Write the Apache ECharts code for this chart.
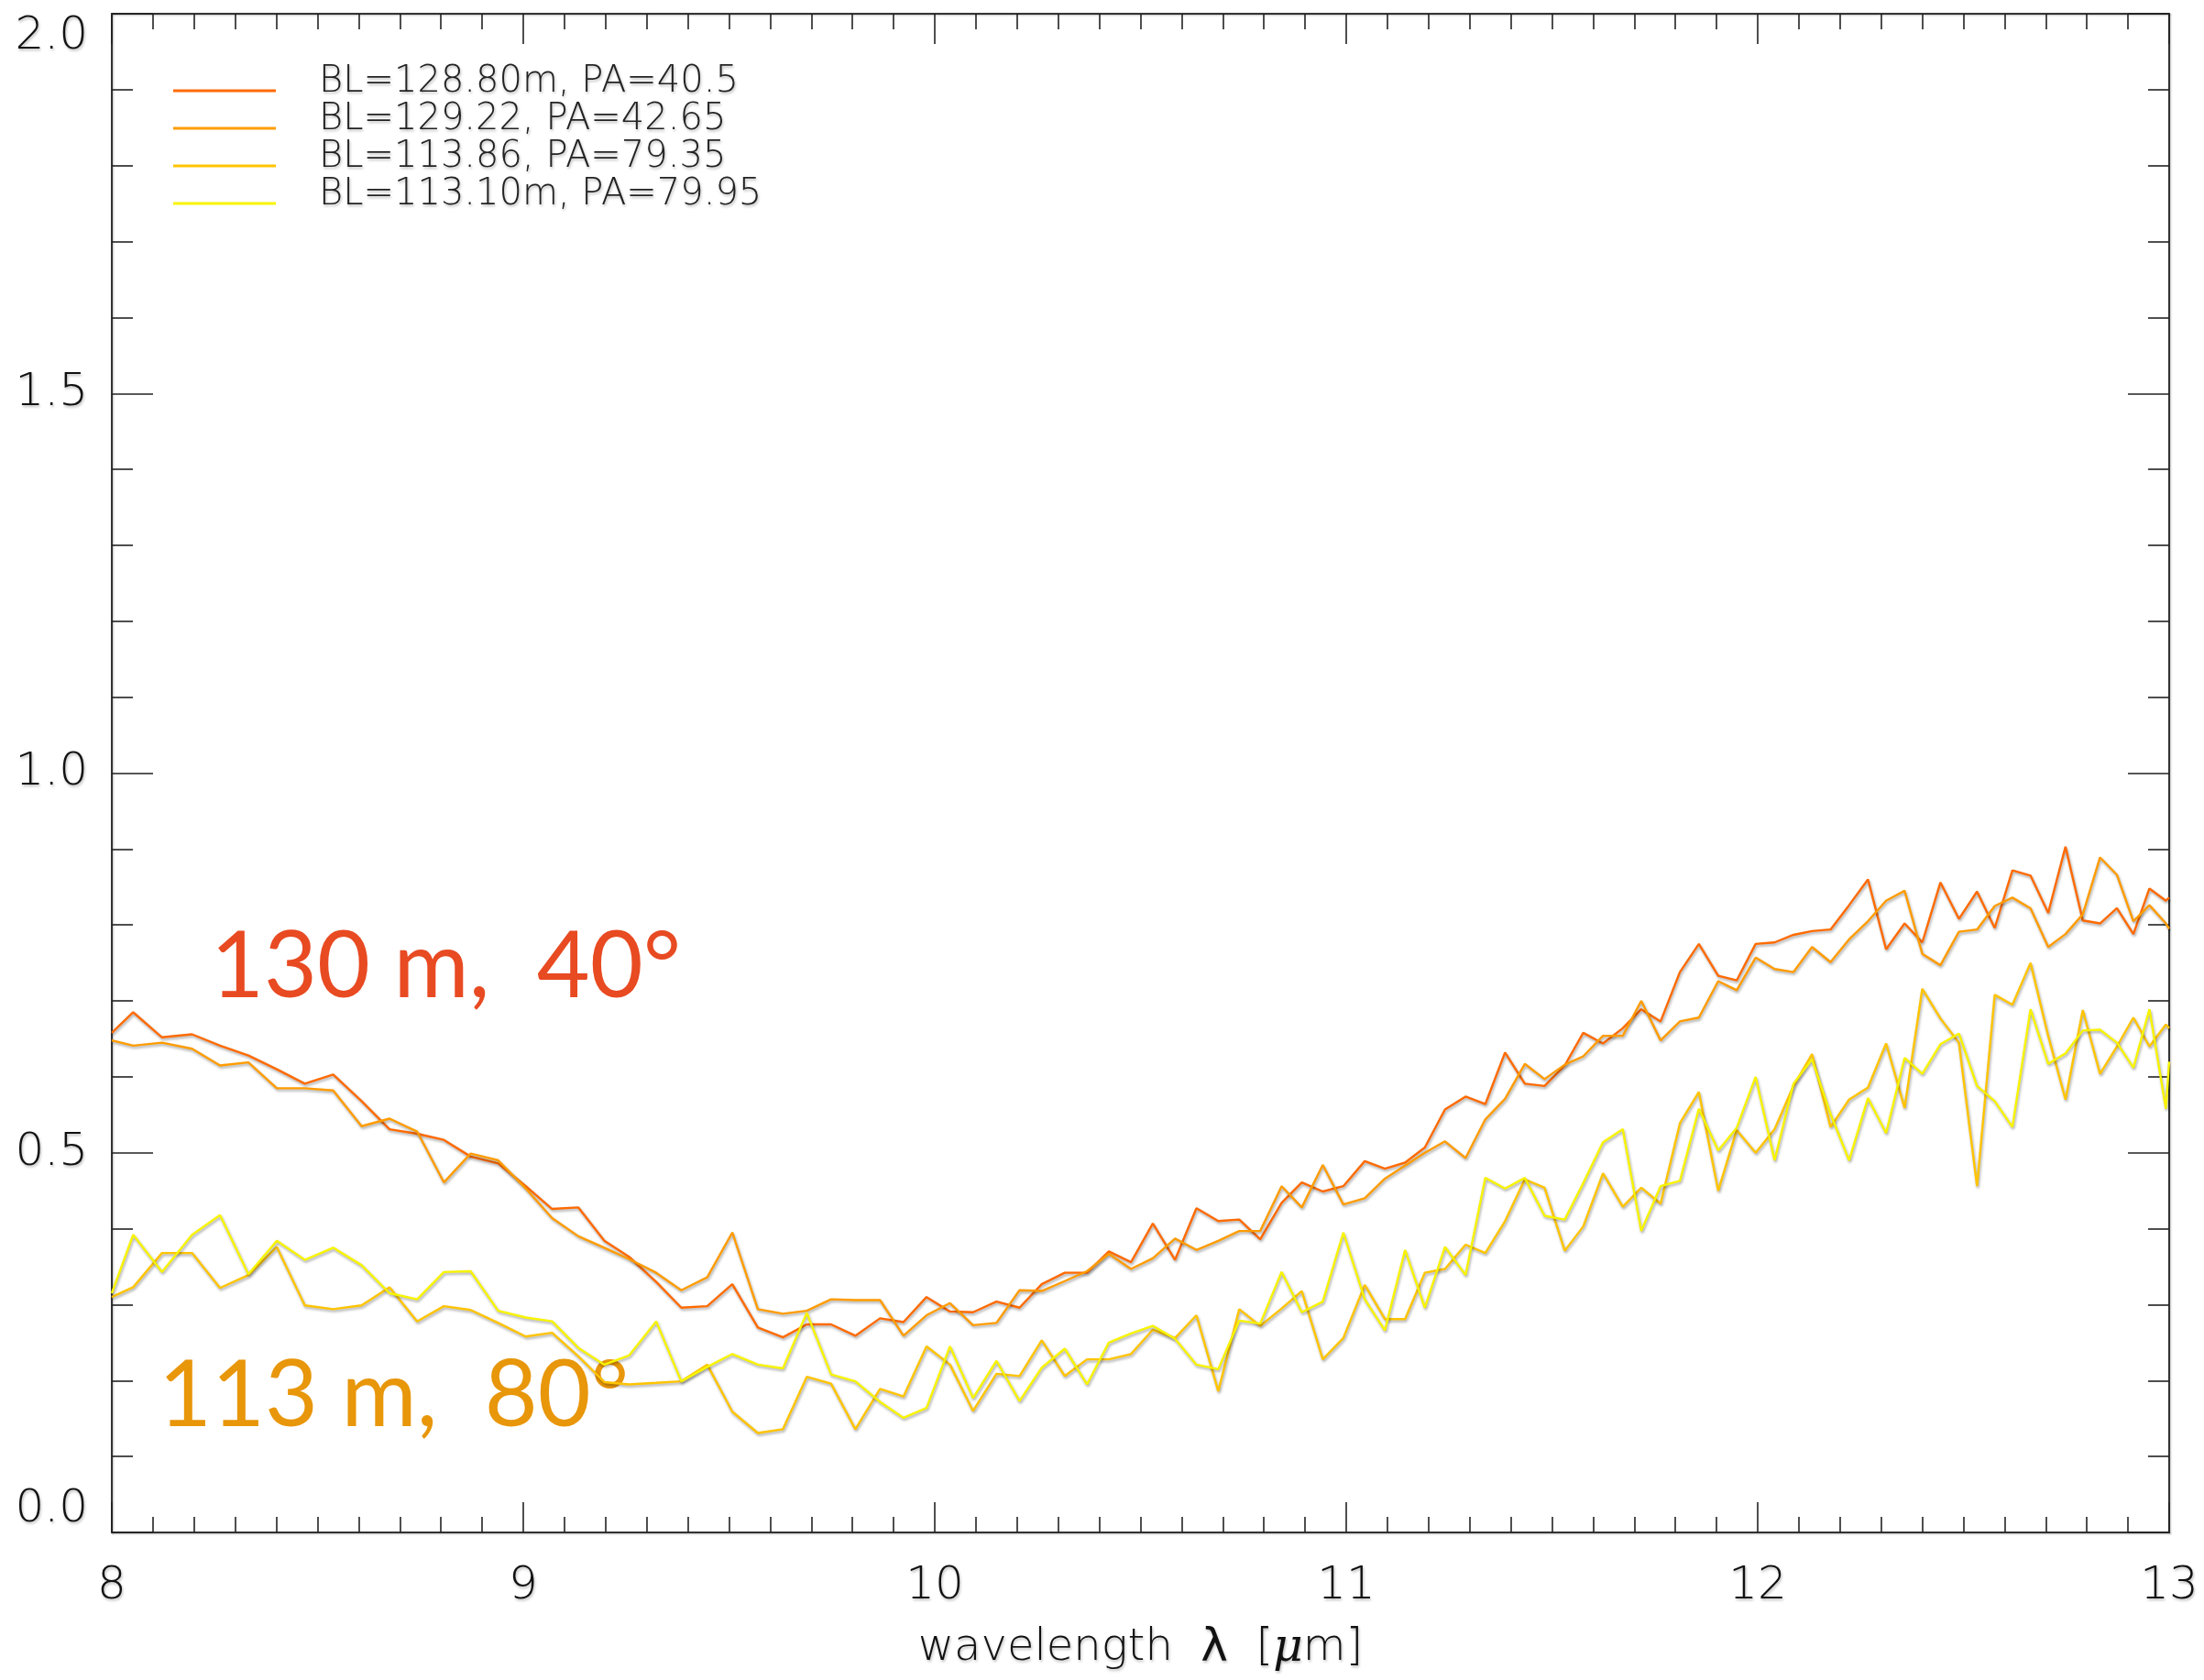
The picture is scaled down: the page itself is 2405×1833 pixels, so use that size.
<!DOCTYPE html>
<html>
<head>
<meta charset="utf-8">
<script src="https://cdn.jsdelivr.net/npm/echarts@6/dist/echarts.min.js"></script>
<style>
  html, body { margin: 0; padding: 0; background: #fff; overflow: hidden; }
  #chart { width: 2405px; height: 1833px; }
</style>
</head>
<body>
<div id="chart"></div>
<script>
// Wavelength grid (µm), shared by all four baselines
const wavelength = [
  8.000, 8.052, 8.122, 8.195, 8.263, 8.332, 8.401, 8.469, 8.538, 8.607,
  8.675, 8.742, 8.807, 8.872, 8.939, 9.006, 9.070, 9.134, 9.197, 9.257,
  9.323, 9.384, 9.447, 9.508, 9.570, 9.631, 9.689, 9.748, 9.807, 9.867,
  9.924, 9.980, 10.037, 10.093, 10.150, 10.206, 10.260, 10.316, 10.370, 10.423, 10.477,
  10.530, 10.584, 10.636, 10.689, 10.740, 10.791, 10.843, 10.892, 10.943, 10.993, 11.045, 11.094,
  11.143, 11.191, 11.240, 11.290, 11.338, 11.386, 11.434, 11.482, 11.531, 11.576, 11.624, 11.672, 11.717,
  11.764, 11.811, 11.857, 11.904, 11.949, 11.995, 12.041, 12.087, 12.132, 12.177, 12.222, 12.268, 12.312, 12.357,
  12.400, 12.444, 12.489, 12.533, 12.576, 12.619, 12.663, 12.706, 12.748, 12.790, 12.832, 12.873, 12.913, 12.952, 12.992, 13.000
];

// BL=128.80m, PA=40.5
const visBL12880 = [
  0.658, 0.685, 0.652, 0.656, 0.641, 0.628, 0.610, 0.591, 0.603, 0.568,
  0.531, 0.525, 0.517, 0.495, 0.486, 0.456, 0.426, 0.428, 0.384, 0.363,
  0.330, 0.296, 0.298, 0.327, 0.270, 0.257, 0.274, 0.274, 0.259, 0.282,
  0.277, 0.310, 0.291, 0.290, 0.304, 0.296, 0.327, 0.342, 0.342, 0.370, 0.356,
  0.407, 0.359, 0.427, 0.410, 0.412, 0.386, 0.434, 0.461, 0.449, 0.456, 0.489, 0.479,
  0.487, 0.507, 0.557, 0.574, 0.564, 0.632, 0.591, 0.588, 0.615, 0.658, 0.644, 0.664, 0.689,
  0.673, 0.738, 0.775, 0.733, 0.727, 0.775, 0.777, 0.787, 0.792, 0.794, 0.826, 0.860, 0.768, 0.802,
  0.777, 0.856, 0.808, 0.844, 0.796, 0.872, 0.865, 0.816, 0.903, 0.806, 0.802, 0.822, 0.788, 0.848, 0.832, 0.836
];

// BL=129.22, PA=42.65
const visBL12922 = [
  0.648, 0.641, 0.645, 0.637, 0.615, 0.619, 0.585, 0.585, 0.582, 0.535,
  0.545, 0.528, 0.461, 0.499, 0.490, 0.453, 0.414, 0.390, 0.375, 0.360,
  0.342, 0.319, 0.336, 0.395, 0.294, 0.288, 0.292, 0.307, 0.306, 0.306,
  0.259, 0.286, 0.302, 0.273, 0.276, 0.319, 0.318, 0.331, 0.344, 0.367, 0.347,
  0.361, 0.387, 0.372, 0.384, 0.397, 0.397, 0.456, 0.428, 0.484, 0.432, 0.440, 0.466,
  0.483, 0.500, 0.515, 0.493, 0.544, 0.571, 0.617, 0.597, 0.616, 0.627, 0.654, 0.654, 0.700,
  0.648, 0.673, 0.678, 0.726, 0.714, 0.757, 0.742, 0.738, 0.771, 0.751, 0.781, 0.805, 0.832, 0.845,
  0.762, 0.747, 0.791, 0.794, 0.825, 0.836, 0.822, 0.771, 0.788, 0.814, 0.889, 0.866, 0.805, 0.826, 0.802, 0.795
];

// BL=113.86, PA=79.35
const visBL11386 = [
  0.310, 0.323, 0.368, 0.368, 0.322, 0.339, 0.376, 0.299, 0.294, 0.299,
  0.323, 0.278, 0.298, 0.293, 0.276, 0.258, 0.263, 0.232, 0.198, 0.195,
  0.197, 0.199, 0.221, 0.159, 0.131, 0.136, 0.205, 0.196, 0.136, 0.189,
  0.179, 0.245, 0.221, 0.160, 0.209, 0.206, 0.253, 0.206, 0.228, 0.228, 0.235,
  0.267, 0.256, 0.286, 0.186, 0.294, 0.272, 0.295, 0.318, 0.228, 0.256, 0.326, 0.281,
  0.281, 0.342, 0.347, 0.379, 0.368, 0.410, 0.465, 0.454, 0.371, 0.403, 0.473, 0.429, 0.454,
  0.433, 0.539, 0.580, 0.450, 0.530, 0.500, 0.531, 0.588, 0.630, 0.534, 0.570, 0.586, 0.644, 0.559,
  0.716, 0.677, 0.645, 0.456, 0.708, 0.695, 0.750, 0.654, 0.570, 0.688, 0.604, 0.640, 0.678, 0.640, 0.669, 0.664
];

// BL=113.10m, PA=79.95
const visBL11310 = [
  0.315, 0.392, 0.343, 0.392, 0.418, 0.340, 0.384, 0.359, 0.375, 0.352,
  0.315, 0.307, 0.343, 0.344, 0.292, 0.283, 0.278, 0.243, 0.221, 0.233,
  0.278, 0.199, 0.218, 0.235, 0.221, 0.216, 0.289, 0.208, 0.199, 0.172,
  0.151, 0.164, 0.245, 0.177, 0.226, 0.173, 0.217, 0.242, 0.195, 0.250, 0.262,
  0.272, 0.255, 0.221, 0.215, 0.279, 0.275, 0.343, 0.290, 0.304, 0.395, 0.307, 0.266,
  0.372, 0.296, 0.376, 0.339, 0.467, 0.453, 0.467, 0.417, 0.412, 0.460, 0.514, 0.531, 0.397,
  0.456, 0.463, 0.558, 0.503, 0.533, 0.600, 0.490, 0.591, 0.623, 0.551, 0.490, 0.572, 0.526, 0.625,
  0.604, 0.643, 0.657, 0.588, 0.568, 0.534, 0.689, 0.617, 0.631, 0.661, 0.662, 0.645, 0.612, 0.689, 0.558, 0.620
];

const seriesNames = [
  'BL=128.80m, PA=40.5',
  'BL=129.22, PA=42.65',
  'BL=113.86, PA=79.35',
  'BL=113.10m, PA=79.95'
];
const seriesValues = [visBL12880, visBL12922, visBL11386, visBL11310];
const seriesColors = ['#ff6a00', '#ff9c00', '#ffc400', '#f8f400'];

const xTicks = { min: 8, max: 13, step: 1 };
const yTicks = { min: 0, max: 2, step: 0.5 };

const labelFont = '"DejaVu Sans", Lato, sans-serif';
const labelWeight = 200;
const textShadow = {
  textShadowColor: 'rgba(0,0,0,0.28)',
  textShadowBlur: 3,
  textShadowOffsetX: 1,
  textShadowOffsetY: 2
};

const chart = echarts.init(document.getElementById('chart'), null, { renderer: 'canvas' });

const axisLineStyle = { color: '#333', width: 2, shadowColor: 'rgba(0,0,0,0.25)', shadowBlur: 2, shadowOffsetX: 1, shadowOffsetY: 1 };
const tickStyle = { color: '#222', width: 1.6 };

function xAxisDef(pos, showLabels) {
  return {
    type: 'value',
    position: pos,
    min: xTicks.min, max: xTicks.max, interval: xTicks.step,
    axisLine: { show: true, onZero: false, lineStyle: axisLineStyle },
    axisTick: { show: true, inside: true, length: 33, lineStyle: tickStyle },
    minorTick: { show: true, splitNumber: 10, length: 17, lineStyle: tickStyle },
    splitLine: { show: false },
    axisLabel: {
      show: showLabels, fontSize: 50, fontFamily: labelFont, fontWeight: labelWeight,
      color: '#111', margin: 34, ...textShadow
    },
    name: showLabels ? '{t|wavelength  }{l|λ}{t|  [}{m|μ}{t|m]}' : '',
    nameLocation: 'middle',
    nameGap: 102,
    nameTextStyle: {
      rich: {
        t: { fontSize: 48, fontFamily: labelFont, fontWeight: labelWeight, color: '#111', ...textShadow },
        l: { fontSize: 50, fontFamily: '"DejaVu Sans", sans-serif', color: '#111', ...textShadow },
        m: { fontSize: 50, fontFamily: '"DejaVu Serif", serif', fontStyle: 'italic', color: '#111', ...textShadow }
      }
    }
  };
}

function yAxisDef(pos, showLabels) {
  return {
    type: 'value',
    position: pos,
    min: yTicks.min, max: yTicks.max, interval: yTicks.step,
    axisLine: { show: true, onZero: false, lineStyle: axisLineStyle },
    axisTick: { show: true, inside: true, length: 45, lineStyle: tickStyle },
    minorTick: { show: true, splitNumber: 5, length: 23, lineStyle: tickStyle },
    splitLine: { show: false },
    axisLabel: {
      show: showLabels, fontSize: 50, fontFamily: labelFont, fontWeight: labelWeight,
      color: '#111', margin: 26,
      verticalAlignMinLabel: 'bottom', verticalAlignMaxLabel: 'top',
      formatter: v => v.toFixed(1), ...textShadow
    }
  };
}

const series = seriesNames.map((name, k) => ({
  name,
  type: 'line',
  xAxisIndex: 0,
  yAxisIndex: 0,
  symbol: 'none',
  silent: true,
  animation: false,
  color: seriesColors[k],
  lineStyle: {
    width: 2.4,
    color: seriesColors[k],
    shadowColor: 'rgba(0,0,0,0.35)',
    shadowBlur: 3,
    shadowOffsetX: 1,
    shadowOffsetY: 2
  },
  data: wavelength.map((w, i) => [w, seriesValues[k][i]])
}));

chart.setOption({
  backgroundColor: '#ffffff',
  animation: false,
  grid: { left: 122, right: 38, top: 15, bottom: 161, containLabel: false, outerBoundsMode: 'none' },
  xAxis: [xAxisDef('bottom', true), xAxisDef('top', false)],
  yAxis: [yAxisDef('left', true), yAxisDef('right', false)],
  legend: {
    show: true,
    orient: 'vertical',
    left: 189,
    top: 70,
    padding: 0,
    itemGap: -17,
    itemWidth: 112,
    itemHeight: 3,
    icon: 'rect',
    selectedMode: false,
    data: seriesNames,
    // a trailing blank line lifts each legend entry slightly above its line sample
    formatter: name => name + '\n ',
    textStyle: {
      fontSize: 40, fontFamily: labelFont, fontWeight: labelWeight, color: '#222',
      lineHeight: 18, padding: [0, 0, 0, 42], ...textShadow
    }
  },
  graphic: [
    {
      type: 'text', left: 230, top: 1006, silent: true,
      style: {
        text: '130 m,  40°', fontSize: 100, fontFamily: 'Lato, "Open Sans", sans-serif',
        fill: '#e84a22'
      }
    },
    {
      type: 'text', left: 173, top: 1474, silent: true,
      style: {
        text: '113 m,  80°', fontSize: 100, fontFamily: 'Lato, "Open Sans", sans-serif',
        fill: '#e8960a'
      }
    }
  ],
  series
});
</script>
</body>
</html>
